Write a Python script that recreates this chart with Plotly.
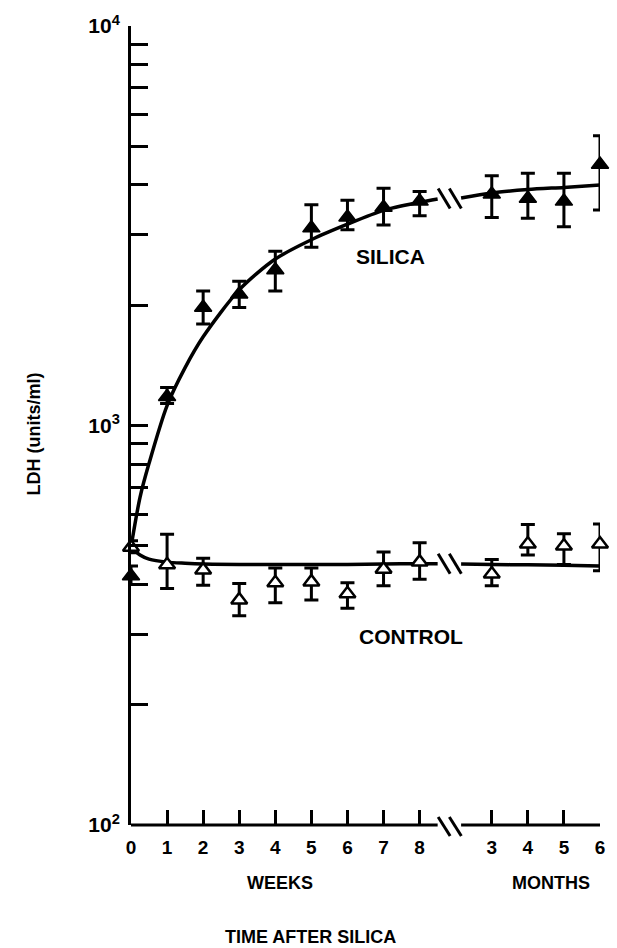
import math
import plotly.graph_objects as go

# ---- positions on a continuous axis: weeks 0-8, then months 3-6 after a break ----
week_pos = [0, 1, 2, 3, 4, 5, 6, 7, 8]
month_pos = [10, 11, 12, 13]
tick_pos = week_pos + month_pos
tick_text = ["0", "1", "2", "3", "4", "5", "6", "7", "8", "3", "4", "5", "6"]
point_x = week_pos + month_pos

# ---- LDH (units/ml): means and error-bar ends ----
silica_mean = [420, 1180, 1975, 2130, 2450, 3120, 3320, 3515, 3640, 3790, 3700, 3640, 4500]
silica_hi = [445, 1245, 2170, 2295, 2730, 3570, 3665, 3925, 3850, 4220, 4280, 4280, 5310]
silica_lo = [400, 1135, 1795, 1975, 2170, 2795, 3090, 3175, 3350, 3315, 3300, 3145, 3465]

control_mean = [496, 448, 435, 366, 404, 406, 379, 437, 455, 425, 505, 499, 505]
control_hi = [515, 534, 465, 402, 440, 440, 404, 482, 509, 462, 565, 536, 567]
control_lo = [480, 391, 398, 334, 360, 366, 349, 397, 412, 397, 474, 449, 433]

# ---- fitted curves, two segments either side of the break ----
break_start, break_end = 8.5, 9.15

silica_fit_x1 = [0, 0.25, 0.5, 1, 1.5, 2, 3, 4, 5, 6, 7, 8, 8.5]
silica_fit_y1 = [496, 661, 804, 1122, 1396, 1667, 2185, 2610, 2917, 3190, 3455, 3620, 3690]
silica_fit_x2 = [9.15, 10, 11, 12, 13]
silica_fit_y2 = [3710, 3820, 3895, 3945, 4000]

control_fit_x1 = [0, 0.25, 0.5, 1, 1.5, 2, 3, 4, 5, 6, 7, 8, 8.5]
control_fit_y1 = [496, 474, 463, 455, 452, 450, 449, 449, 449, 449, 450, 451, 451]
control_fit_x2 = [9.15, 10, 11, 12, 13]
control_fit_y2 = [450, 449, 448, 447, 445]

# ---- y ticks: decades labelled, 2-9 in between unlabelled ----
y_tick_vals = []
y_tick_text = []
for dec in (100, 1000):
    for m in range(1, 10):
        y_tick_vals.append(dec * m)
        y_tick_text.append("10<sup>%d</sup>" % round(math.log10(dec)) if m == 1 else "")
y_tick_vals.append(10000)
y_tick_text.append("10<sup>4</sup>")

FONT = "Liberation Sans"
INK = "black"


def err(mean, hi, lo):
    return dict(
        type="data", symmetric=False,
        array=[h - m for h, m in zip(hi, mean)],
        arrayminus=[m - l for m, l in zip(mean, lo)],
        color=INK, thickness=3, width=7,
    )


fig = go.Figure()

for xs, ys in ((silica_fit_x1, silica_fit_y1), (silica_fit_x2, silica_fit_y2),
               (control_fit_x1, control_fit_y1), (control_fit_x2, control_fit_y2)):
    fig.add_trace(go.Scatter(
        x=xs, y=ys, mode="lines",
        line=dict(color=INK, width=3.5, shape="spline", smoothing=0.8),
        hoverinfo="skip", showlegend=False,
    ))

fig.add_trace(go.Scatter(
    x=point_x, y=control_mean, mode="markers", name="CONTROL",
    marker=dict(symbol="triangle-up", size=14, color="white",
                line=dict(color=INK, width=2.5)),
    error_y=err(control_mean, control_hi, control_lo),
    cliponaxis=False, showlegend=False,
))
fig.add_trace(go.Scatter(
    x=point_x, y=silica_mean, mode="markers", name="SILICA",
    marker=dict(symbol="triangle-up", size=15, color=INK,
                line=dict(color=INK, width=1.5)),
    error_y=err(silica_mean, silica_hi, silica_lo),
    cliponaxis=False, showlegend=False,
))

# ---- x axis line drawn in two pieces with break marks ----
shapes = []
for a, b in ((0, break_start), (break_end, 13)):
    shapes.append(dict(type="line", xref="x", yref="paper", x0=a, x1=b, y0=0, y1=0,
                       line=dict(color=INK, width=3)))


def slashes(y_paper, dy_top, dy_bot):
    out = []
    for c in (8.68, 8.99):
        out.append(dict(type="line", xref="x", yref="paper",
                        xsizemode="pixel", ysizemode="pixel",
                        xanchor=c, yanchor=y_paper,
                        x0=-6, x1=6, y0=dy_top, y1=-dy_bot,
                        line=dict(color=INK, width=3)))
    return out


def to_paper(v):
    return (math.log10(v) - 2) / 2


shapes += slashes(0, 8, 11)
shapes += slashes(to_paper((silica_fit_y1[-1] * silica_fit_y2[0]) ** 0.5), 10, 10)
shapes += slashes(to_paper((control_fit_y1[-1] * control_fit_y2[0]) ** 0.5), 10, 10)

annotations = [
    dict(text="SILICA", x=0.553, y=0.712, size=21),
    dict(text="CONTROL", x=0.597, y=0.236, size=21),
    dict(text="WEEKS", x=0.317, y=-0.072, size=18),
    dict(text="MONTHS", x=0.896, y=-0.072, size=18),
    dict(text="TIME AFTER SILICA", x=0.3835, y=-0.140, size=18),
]
for a in annotations:
    size = a.pop("size")
    a.update(xref="paper", yref="paper", showarrow=False,
             xanchor="center", yanchor="middle",
             font=dict(family=FONT, size=size, color=INK, weight="bold"))
annotations.append(dict(
    text="LDH (units/ml)", xref="paper", yref="paper", x=-0.2066, y=0.489,
    xanchor="center", yanchor="middle",
    textangle=-90, showarrow=False,
    font=dict(family=FONT, size=18, color=INK, weight="bold"),
))

fig.update_layout(
    width=617, height=948,
    margin=dict(l=131, r=14, t=23, b=123),
    paper_bgcolor="white", plot_bgcolor="white",
    shapes=shapes, annotations=annotations,
    xaxis=dict(
        range=[0, 13], showgrid=False, zeroline=False, showline=False,
        tickmode="array", tickvals=tick_pos, ticktext=tick_text,
        ticks="inside", ticklen=15, tickwidth=3, tickcolor=INK,
        ticklabelstandoff=9,
        tickfont=dict(family=FONT, size=19, color=INK, weight="bold"),
    ),
    yaxis=dict(
        type="log", range=[2, 4], showgrid=False, zeroline=False,
        showline=True, linewidth=3, linecolor=INK,
        tickmode="array", tickvals=y_tick_vals, ticktext=y_tick_text,
        ticks="inside", ticklen=17, tickwidth=3, tickcolor=INK,
        ticklabelstandoff=4,
        tickfont=dict(family=FONT, size=21, color=INK, weight="bold"),
    ),
)

fig.write_html("out.html")
